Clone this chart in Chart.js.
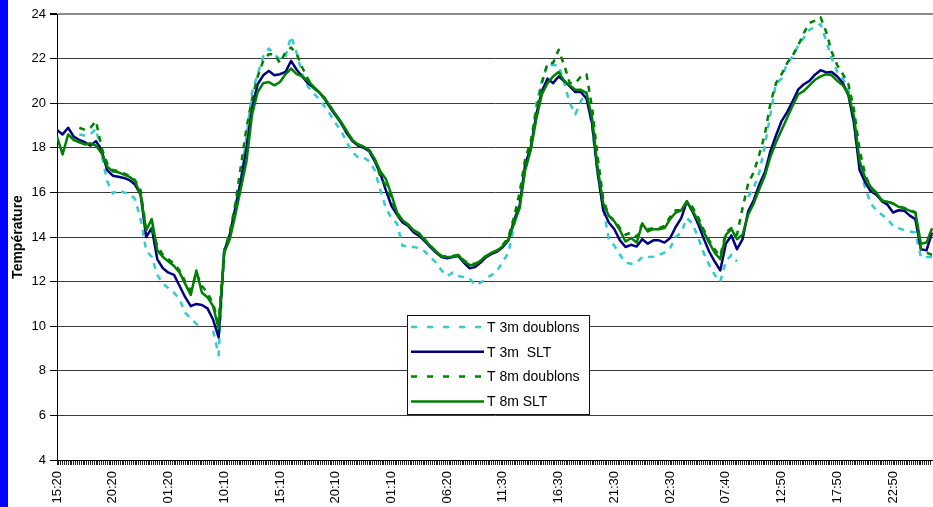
<!DOCTYPE html>
<html lang="fr">
<head>
<meta charset="utf-8">
<title>Température</title>
<script src="https://cdn.jsdelivr.net/npm/chart.js@4.4.1/dist/chart.umd.min.js"></script>
<style>
  html, body { margin: 0; padding: 0; background: #fff; }
  #wrap { width: 933px; height: 507px; }
</style>
</head>
<body>
<div id="wrap"><canvas id="temp" width="933" height="507"></canvas></div>
<script>
/* Température à 3 m et 8 m — mesures "doublons" (pointillés) et SLT (traits pleins).
   Un point toutes les 3 lectures, une étiquette horaire toutes les 30 lectures. */
(function () {
  'use strict';

  var STEP = 3;
  var LABEL_EVERY = 30;
  var FONT = "'Liberation Sans', Arial, sans-serif";

  var timeLabels = ['15:20', '20:20', '01:20', '10:10', '15:10', '20:10', '01:10', '06:20',
                    '11:30', '16:30', '21:30', '02:30', '07:40', '12:50', '17:50', '22:50'];
  var yMin = 4, yMax = 24, yStep = 2;

  var t3mDoublons = [
    null, null, null, null, 18.6, 18.55, 18.6, 18.85, 17.7, 16.5,
    15.95, 16.1, 16.0, 15.95, 15.7, 14.8, 13.4, 13.1, 12.3, 11.9,
    11.7, 11.5, 11.2, 10.6, 10.35, 10.1, 9.95, null, 9.8, 8.7,
    13.4, 14.0, 15.3, 16.6, 18.5, 20.5, 21.3, 22.1, 22.45, 22.2,
    21.95, 22.1, 23.0, 22.25, 21.3, 20.75, 20.45, 20.2, 19.85, 19.5,
    19.1, 18.75, 18.24, 17.8, 17.57, 17.57, 17.4, 17.0, 16.1, 15.3,
    14.85, 14.6, 13.6, 13.6, 13.55, 13.5, 13.35, 13.1, 12.85, 12.5,
    12.25, 12.4, 12.25, 12.2, 12.15, 11.85, 11.95, 12.15, 12.3, 12.5,
    12.9, 13.3, 14.5, 15.6, 17.0, 18.0, 20.0, 21.0, 21.75, 21.7,
    21.7, 20.9, 20.0, 19.5, 20.1, 20.5, 18.9, 16.8, 15.3, 13.9,
    13.6, 13.2, 12.85, 12.8, 12.85, 13.1, 13.1, 13.12, 13.2, 13.3,
    13.5, 14.0, 14.2, 14.85, 14.6, 14.0, 13.3, 12.75, 12.3, 12.0,
    12.9, 13.2, 12.9, null, 15.8, 16.2, 16.9, 18.1, 19.5, 20.9,
    21.1, 21.8, 22.1, 22.6, 22.95, 23.3, 23.4, 23.55, 22.8, 22.0,
    21.4, 21.1, 20.6, 19.0, 17.2, 16.2, 15.5, 15.2, 15.0, 14.8,
    14.5, 14.4, 14.3, 14.25, 14.2, 13.1, 13.1, 13.1
  ];

  var t3mSlt = [
    18.8, 18.6, 18.9, 18.5, 18.35, 18.25, 18.1, 18.3, 17.9, 17.0,
    16.75, 16.7, 16.65, 16.55, 16.35, 15.9, 14.0, 14.4, 13.0, 12.6,
    12.4, 12.3, 11.8, 11.3, 10.9, 11.0, 10.95, 10.8, 10.3, 9.5,
    13.35, 14.1, 15.3, 16.55, 18.0, 19.8, 20.85, 21.25, 21.45, 21.25,
    21.3, 21.4, 21.9, 21.5, 21.2, 20.9, 20.7, 20.5, 20.2, 19.8,
    19.45, 19.1, 18.65, 18.3, 18.1, 18.0, 17.85, 17.4, 16.85, 16.1,
    15.4, 15.0, 14.65, 14.5, 14.2, 14.05, 13.8, 13.55, 13.3, 13.1,
    13.05, 13.1, 13.15, 12.85, 12.6, 12.65, 12.85, 13.1, 13.25, 13.35,
    13.55, 13.86, 14.75, 15.4, 17.27, 18.0, 19.5, 20.55, 21.1, 20.9,
    21.2, 21.0, 20.75, 20.5, 20.5, 20.2, 19.1, 16.9, 15.2, 14.65,
    14.35, 13.85, 13.55, 13.65, 13.57, 13.9, 13.7, 13.85, 13.85, 13.75,
    13.95, 14.45, 14.85, 15.6, 15.15, 14.6, 13.95, 13.35, 12.9, 12.5,
    13.7, 14.07, 13.45, 13.9, 15.15, 15.65, 16.35, 16.9, 17.85, 18.55,
    19.2, 19.6, 20.1, 20.62, 20.85, 21.0, 21.28, 21.48, 21.38, 21.4,
    21.2, 20.9, 20.35, 19.1, 17.0, 16.45, 16.05, 15.9, 15.6, 15.45,
    15.1, 15.2, 15.18, 14.96, 14.8, 13.45, 13.4, 14.2
  ];

  var t8mDoublons = [
    null, null, null, null, 18.9, 18.8, 18.9, 19.2, 18.0, 17.3,
    17.0, 16.95, 16.85, 16.75, 16.55, 16.1, 14.3, 14.4, 13.6, 13.2,
    13.0, 12.8, 12.5, 12.0, 11.6, 12.4, 11.8, 11.5, 11.0, 10.2,
    13.4, 14.2, 15.5, 17.2, 18.9, 20.2, 21.2, 21.9, 22.2, 22.2,
    21.8, 22.3, 22.5, 22.2, 21.6, 21.1, 20.7, 20.45, 20.2, 19.85,
    19.5, 19.1, 18.7, 18.35, 18.15, 18.05, 17.9, 17.5, 16.7, 16.3,
    15.7, 15.0, 14.75, 14.55, 14.3, 14.15, 13.9, 13.6, 13.35, 13.15,
    13.1, 13.15, 13.2, 12.95, 12.8, 12.8, 12.95, 13.15, 13.3, 13.4,
    13.65, 14.0, 14.9, 16.0, 17.5, 18.3, 19.7, 20.9, 21.8, 21.8,
    22.4, 21.7, 20.9, 20.9, 21.2, 21.3, 19.8, 17.6, 15.7, 14.95,
    14.75, 14.4, 14.1, 14.2, 14.0, 14.6, 14.35, 14.4, 14.4, 14.5,
    14.9, 15.2, 15.2, 15.6, 15.35, 14.9, 14.35, 13.85, 13.45, 13.15,
    14.2, 14.4, 14.1, 15.3, 16.4, 16.9, 17.7, 18.6, 20.0, 20.9,
    21.3, 21.8, 22.15, 22.6, 23.15, 23.6, 23.7, 23.85, 23.2, 22.3,
    21.7, 21.3, 20.85, 19.7, 17.9, 16.8, 16.2, 15.9, 15.65, 15.58,
    15.5, 15.4, 15.3, 15.2, 15.1, 13.45, 13.3, 13.2
  ];

  var t8mSlt = [
    18.5, 17.7, 18.6, 18.35, 18.25, 18.15, 18.2, 18.1, 17.75, 17.15,
    16.95, 16.9, 16.8, 16.7, 16.5, 15.9, 14.3, 14.8, 13.4, 13.1,
    12.9, 12.7, 12.4, 11.9, 11.4, 12.5, 11.5, 11.3, 10.9, 9.9,
    13.3, 13.9, 15.0, 16.2, 17.4, 19.5, 20.5, 20.9, 20.95, 20.8,
    20.95, 21.3, 21.55, 21.3, 21.2, 21.0, 20.75, 20.5, 20.25, 19.85,
    19.5, 19.15, 18.75, 18.35, 18.15, 18.05, 17.9, 17.5, 16.95, 16.6,
    15.9, 15.1, 14.75, 14.55, 14.3, 14.15, 13.85, 13.6, 13.35, 13.15,
    13.1, 13.1, 13.2, 12.9, 12.75, 12.75, 12.95, 13.15, 13.3, 13.4,
    13.6, 13.9, 14.6, 15.3, 17.0, 17.9, 19.3, 20.4, 20.9, 21.2,
    21.4, 21.0, 20.8, 20.6, 20.6, 20.45, 19.35, 17.1, 15.5, 14.95,
    14.7, 14.3, 13.8, 13.95, 13.75, 14.6, 14.25, 14.35, 14.35, 14.4,
    14.8, 15.1, 15.2, 15.6, 15.2, 14.75, 14.25, 13.75, 13.3, 13.0,
    14.1, 14.35, 13.9, 14.1, 15.0, 15.5, 16.15, 16.75, 17.6, 18.25,
    18.8, 19.35, 19.9, 20.4, 20.55, 20.8, 21.05, 21.2, 21.3, 21.25,
    21.0, 20.8, 20.4, 19.4, 17.4, 16.65, 16.25, 16.0, 15.63, 15.58,
    15.5, 15.35, 15.28, 15.18, 15.1, 13.7, 13.75, 14.4
  ];

  var CYAN = '#33CCCC', NAVY = '#000080', GREEN = '#008000';
  var DASH = [6, 6], LEGEND_DASH = [6, 10];

  function toPoints(arr) {
    return arr.map(function (v, k) { return { x: k * STEP, y: v }; });
  }

  function series(label, arr, color, dash, order) {
    return {
      label: label, data: toPoints(arr), order: order,
      borderColor: color, backgroundColor: color, borderWidth: 2.5,
      borderDash: dash, borderJoinStyle: 'round', pointRadius: 0,
      tension: 0, spanGaps: false, fill: false
    };
  }

  // page frame: white sheet with the blue strip on the left
  var framePlugin = {
    id: 'frame',
    beforeDraw: function (chart) {
      var ctx = chart.ctx;
      ctx.save();
      ctx.fillStyle = '#fff';
      ctx.fillRect(0, 0, chart.width, chart.height);
      ctx.fillStyle = '#0000FF';
      ctx.fillRect(0, 0, 8, chart.height);
      ctx.restore();
    }
  };

  // boxed legend sitting over the lines
  var legendBox = { x: 407, y: 315, w: 182, h: 99, row: 24.8, lineX0: 411, lineX1: 484, textX: 487 };
  var legendPlugin = {
    id: 'boxLegend',
    afterDatasetsDraw: function (chart) {
      var ctx = chart.ctx, b = legendBox;
      ctx.save();
      ctx.fillStyle = '#fff';
      ctx.fillRect(b.x, b.y, b.w, b.h);
      ctx.strokeStyle = '#111';
      ctx.lineWidth = 1;
      ctx.strokeRect(b.x + 0.5, b.y + 0.5, b.w, b.h);
      ctx.font = '14px ' + FONT;
      ctx.textBaseline = 'middle';
      chart.data.datasets.forEach(function (ds, i) {
        var y = b.y + 12 + i * b.row;
        ctx.beginPath();
        ctx.setLineDash(ds.borderDash.length ? LEGEND_DASH : []);
        ctx.strokeStyle = ds.borderColor;
        ctx.lineWidth = ds.borderWidth;
        ctx.moveTo(b.lineX0, y);
        ctx.lineTo(b.lineX1, y);
        ctx.stroke();
        ctx.setLineDash([]);
        ctx.fillStyle = '#000';
        ctx.fillText(ds.label, b.textX, y + 1);
      });
      ctx.restore();
    }
  };

  new Chart(document.getElementById('temp'), {
    type: 'line',
    data: {
      datasets: [
        series('T 3m doublons', t3mDoublons, CYAN, DASH, 4),
        series('T 3m  SLT', t3mSlt, NAVY, [], 3),
        series('T 8m doublons', t8mDoublons, GREEN, DASH, 2),
        series('T 8m SLT', t8mSlt, GREEN, [], 1)
      ]
    },
    options: {
      responsive: false, animation: false, devicePixelRatio: 1,
      layout: { padding: { top: 14, right: 0, bottom: 0, left: 0 } },
      plugins: { legend: { display: false }, tooltip: { enabled: false }, title: { display: false } },
      scales: {
        x: {
          type: 'linear', min: 0, max: (t3mSlt.length - 1) * STEP + 0.5,
          grid: { drawOnChartArea: false, drawTicks: true, tickLength: 5, tickColor: '#222', lineWidth: 1 },
          border: { display: true, color: '#000', width: 1 },
          ticks: {
            stepSize: 1, autoSkip: false, minRotation: 90, maxRotation: 90, padding: 6,
            color: '#000', font: { family: FONT, size: 13 },
            callback: function (v) { return v % LABEL_EVERY === 0 ? timeLabels[v / LABEL_EVERY] : ''; }
          },
          afterFit: function (s) { s.height = 47; s.paddingLeft = 0; s.paddingRight = 0; }
        },
        y: {
          min: yMin, max: yMax,
          grid: {
            color: function (c) { return c.tick && c.tick.value === yMax ? '#8a8a8a' : '#3a3a3a'; },
            lineWidth: function (c) { return c.tick && c.tick.value === yMax ? 2 : 1; },
            tickLength: 7, tickColor: '#000'
          },
          border: { display: true, color: '#000', width: 1 },
          ticks: { stepSize: yStep, padding: 4, color: '#000', font: { family: FONT, size: 13 } },
          title: {
            display: true, text: 'Température', color: '#000',
            font: { family: FONT, size: 14, weight: 'bold' }, padding: { top: 10, bottom: 0 }
          },
          afterFit: function (s) { s.width = 57; s.paddingTop = 0; s.paddingBottom = 0; }
        }
      }
    },
    plugins: [framePlugin, legendPlugin]
  });
})();
</script>
</body>
</html>
